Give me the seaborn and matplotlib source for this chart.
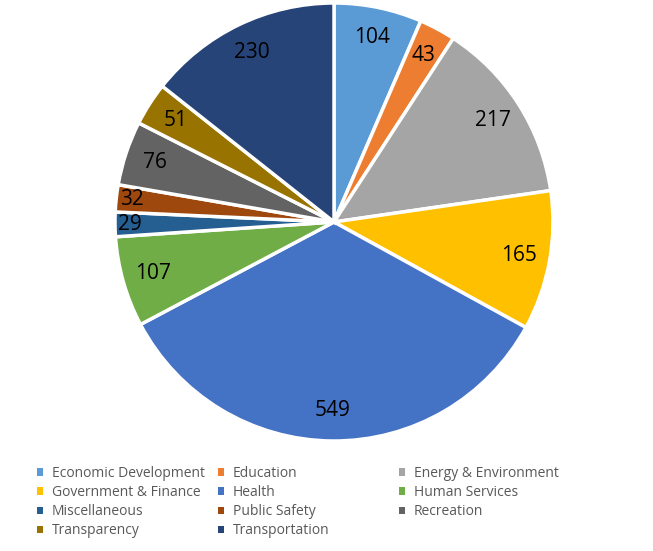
import matplotlib
matplotlib.use("Agg")
import matplotlib.pyplot as plt
import seaborn as sns
from matplotlib.patches import Patch

categories = ["Economic Development", "Education", "Energy & Environment",
              "Government & Finance", "Health", "Human Services",
              "Miscellaneous", "Public Safety", "Recreation",
              "Transparency", "Transportation"]
counts = [104, 43, 217, 165, 549, 107, 29, 32, 76, 51, 230]
hex_colors = ["#5B9BD5", "#ED7D31", "#A5A5A5", "#FFC000", "#4472C4", "#70AD47",
              "#255E91", "#9E480E", "#636363", "#997300", "#264478"]

sns.set_theme(style="white")
plt.rcParams['font.family'] = ['Open Sans', 'DejaVu Sans']
palette = sns.color_palette(hex_colors)

fig = plt.figure(figsize=(6.53, 5.51), dpi=100)
ax = fig.add_axes([115 / 653, 110 / 551, 438 / 653, 438 / 551])

wedges, texts = ax.pie(counts, colors=palette, startangle=90, counterclock=False,
                       labels=[str(c) for c in counts], labeldistance=0.86,
                       wedgeprops=dict(edgecolor="white", linewidth=2.5),
                       textprops=dict(fontsize=15, color="black", ha="center", va="center"))
# tiny slices sit a bit closer to the rim
for t, c in zip(texts, counts):
    t.set_ha("center")
    if c < 40:
        x, y = t.get_position()
        t.set_position((x * 0.93 / 0.86, y * 0.93 / 0.86))
ax.set_xlim(-1, 1)
ax.set_ylim(-1, 1)
ax.set_aspect("equal")

# legend laid out row by row, three fixed columns
col_x = [37, 218, 399]
for j, x0 in enumerate(col_x):
    idx = list(range(j, len(categories), 3))
    handles = [Patch(facecolor=palette[i], edgecolor="none") for i in idx]
    leg = fig.legend(handles, [categories[i] for i in idx], loc="upper left",
                     bbox_to_anchor=(x0 / 653, 1 - 466 / 551), frameon=False,
                     fontsize=10, handlelength=0.45, handleheight=0.45,
                     handletextpad=0.6, labelspacing=0.3,
                     borderpad=0, borderaxespad=0)
    for txt in leg.get_texts():
        txt.set_color("#595959")

fig.savefig("out.png", dpi=100)
